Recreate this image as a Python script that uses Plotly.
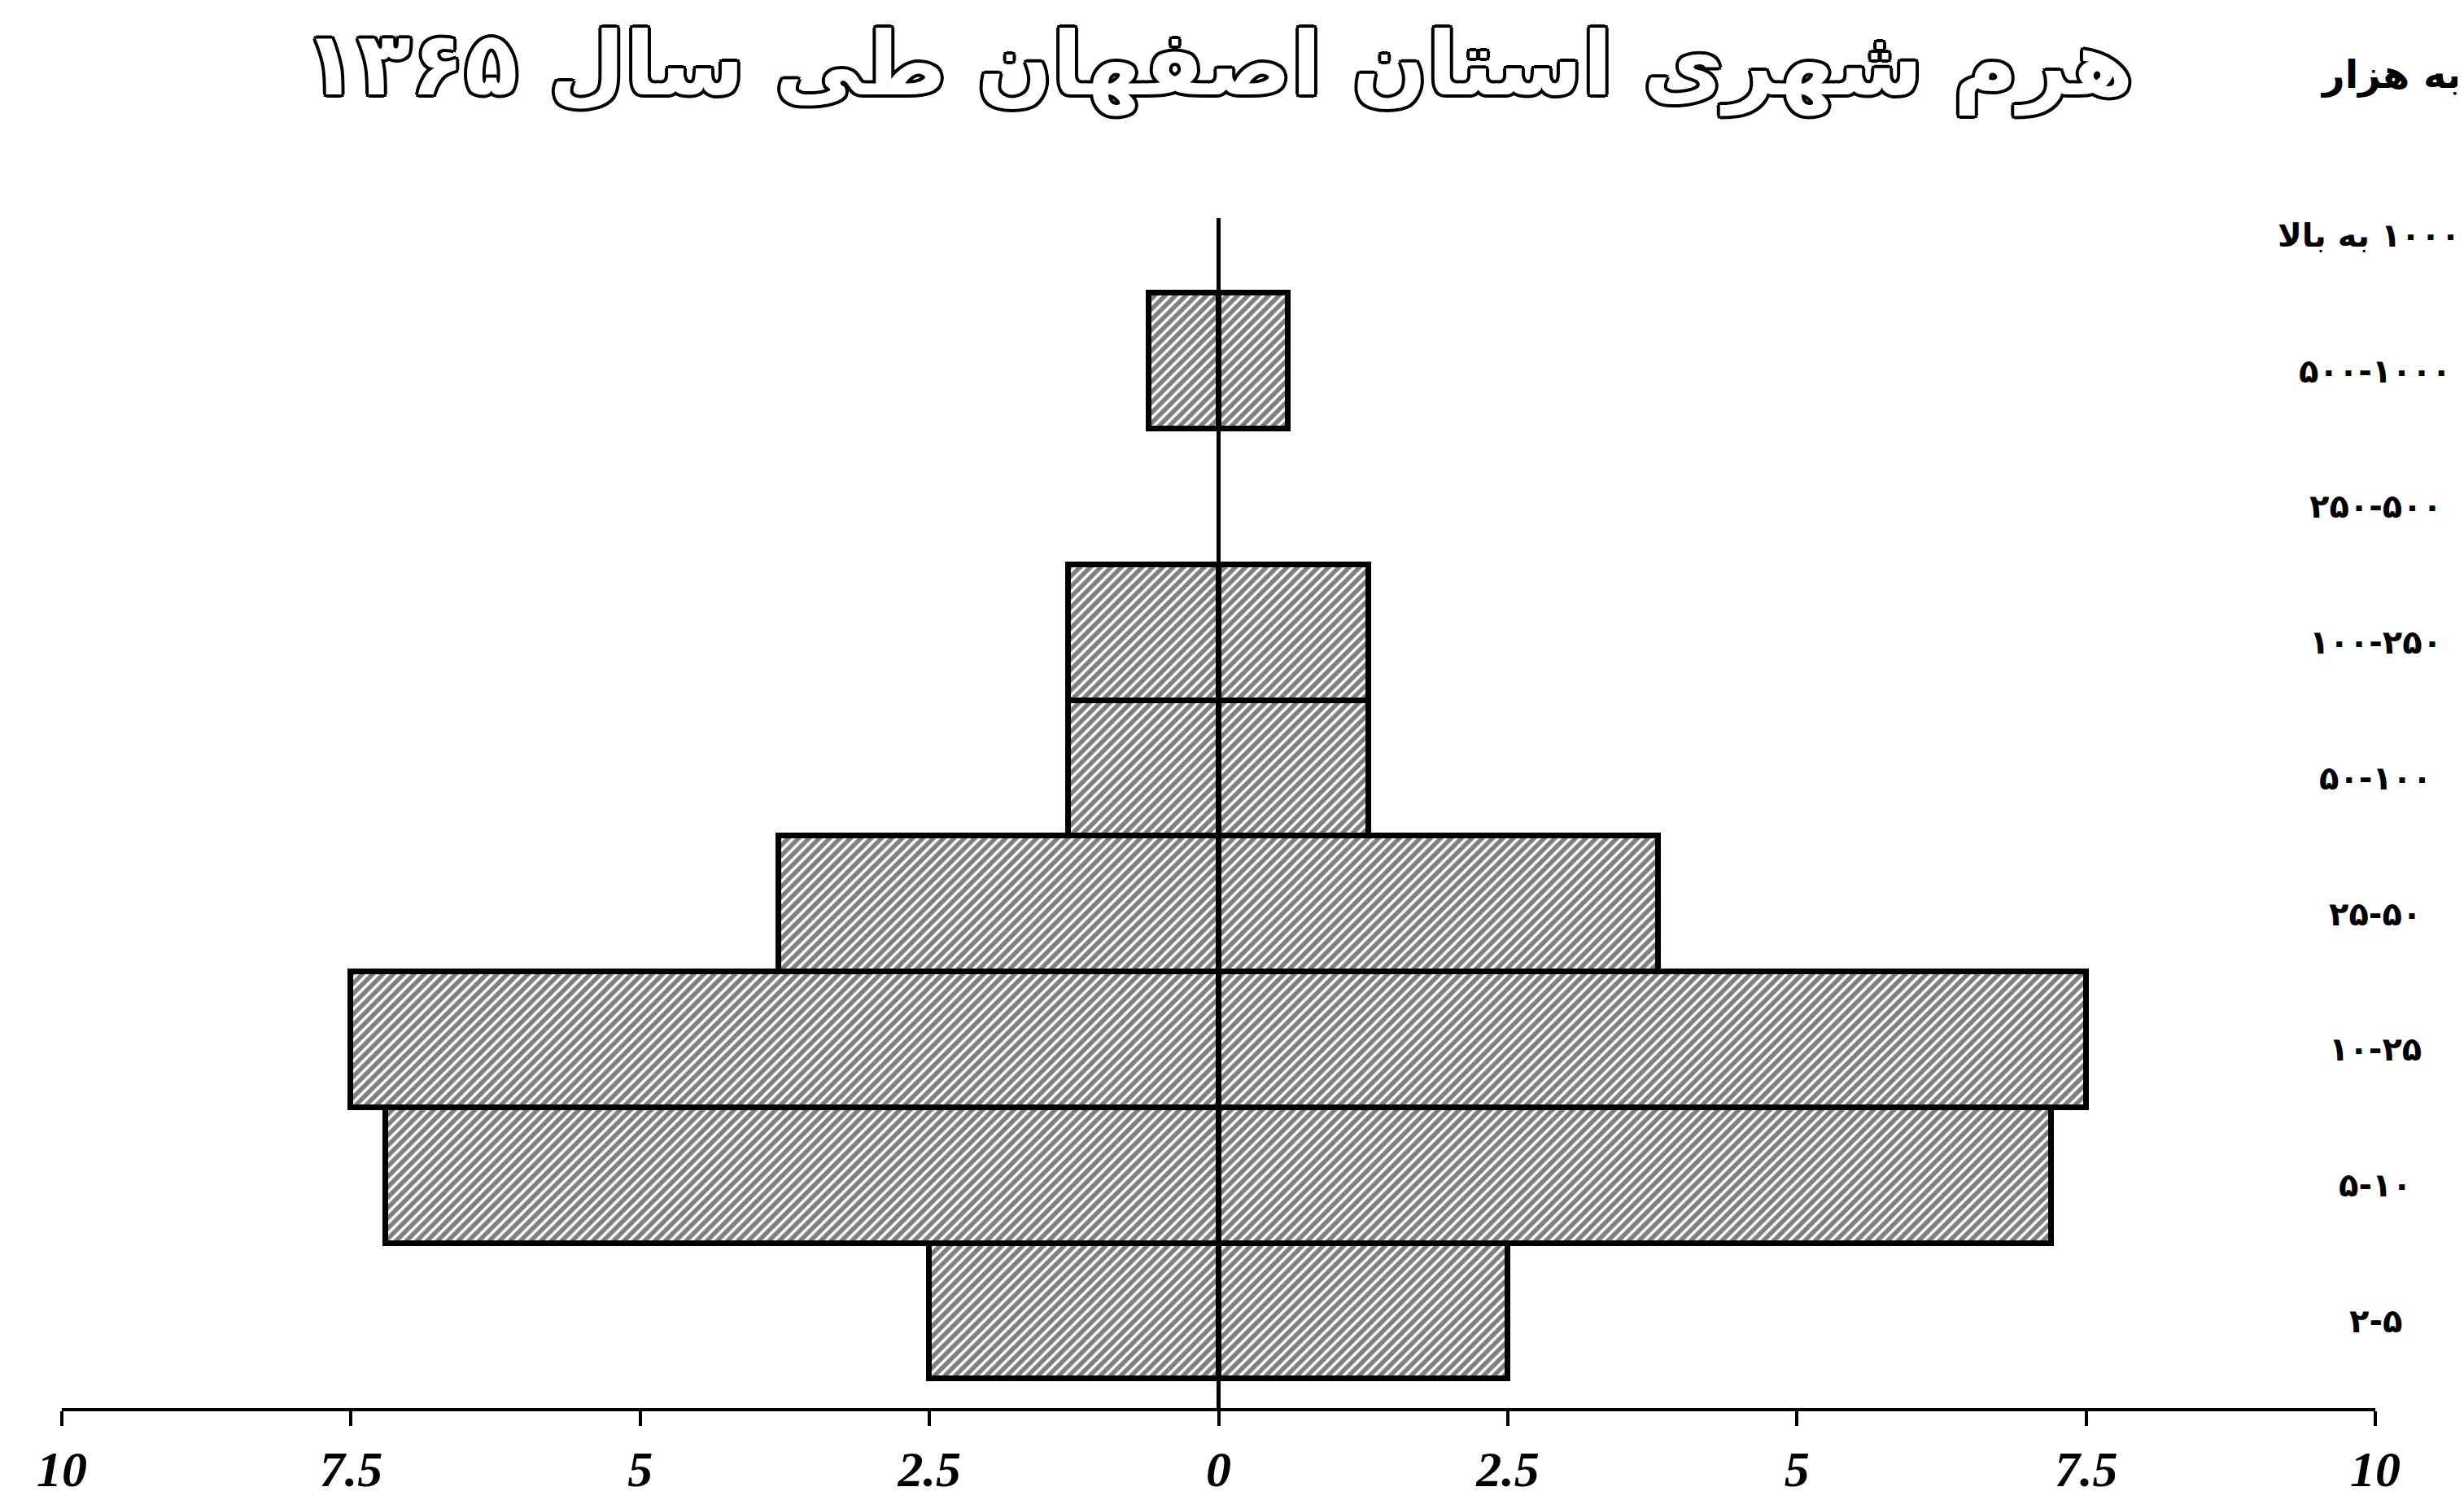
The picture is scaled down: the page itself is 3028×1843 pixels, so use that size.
import plotly.graph_objects as go

# رده‌های جمعیتی شهرها (به هزار نفر)، از بالا به پایین
categories = ['۱۰۰۰ به بالا', '۵۰۰-۱۰۰۰', '۲۵۰-۵۰۰', '۱۰۰-۲۵۰', '۵۰-۱۰۰',
              '۲۵-۵۰', '۱۰-۲۵', '۵-۱۰', '۲-۵']
# طول هر نیمه‌ی میله (خوانده شده از روی شکل)
values = [None, 0.6, None, 1.3, 1.3, 3.8, 7.5, 7.2, 2.5]

tick_vals = [-10, -7.5, -5, -2.5, 0, 2.5, 5, 7.5, 10]
tick_text = ['10', '7.5', '5', '2.5', '0', '2.5', '5', '7.5', '10']

title_text = 'هرم شهری استان اصفهان طی سال ۱۳۶۵'
unit_text = 'به هزار'

fa_font = 'DejaVu Sans'

hatch = dict(shape='/', fgcolor='black', bgcolor='white', size=9, solidity=0.62)
outline = dict(color='black', width=7)

left = [-v if v is not None else None for v in values]

fig = go.Figure()
fig.add_trace(go.Bar(y=categories, x=left, orientation='h',
                     marker=dict(pattern=hatch, line=outline, color='white'),
                     showlegend=False))
fig.add_trace(go.Bar(y=categories, x=values, orientation='h',
                     marker=dict(pattern=hatch, line=outline, color='white'),
                     showlegend=False))

# برچسب رده‌ها در سمت راست
for cat in categories:
    label = cat
    shift = 0
    if ' ' in cat:
        # متن راست‌به‌چپ با عدد
        label = '\u202b' + cat + '\u202c'
        shift = -8
    fig.add_annotation(x=10, y=cat, text=label, showarrow=False,
                       xanchor='center', yanchor='middle', xshift=shift, yshift=-12,
                       font=dict(family=fa_font, size=40, color='black', weight='bold'))

fig.add_annotation(x=1, xref='paper', y=1, yref='paper', text=unit_text,
                   showarrow=False, xanchor='right', yanchor='middle',
                   xshift=108, yshift=177,
                   font=dict(family=fa_font, size=48, color='black', weight='bold'))

outline_shadow = ('4px 0 0 #000, -4px 0 0 #000, 0 4px 0 #000, 0 -4px 0 #000, '
                  '3px 3px 0 #000, -3px -3px 0 #000, 3px -3px 0 #000, -3px 3px 0 #000')
fig.add_annotation(x=0, y=1, yref='paper', text=title_text, showarrow=False,
                   xanchor='center', yanchor='top', yshift=254,
                   font=dict(family=fa_font, size=108, color='white', weight='bold',
                             shadow=outline_shadow))

fig.update_layout(
    width=3028, height=1843,
    margin=dict(l=68, r=117, t=260, b=106),
    paper_bgcolor='white', plot_bgcolor='white',
    barmode='relative', bargap=0,
    xaxis=dict(range=[-10, 10], tickvals=tick_vals, ticktext=tick_text,
               ticks='outside', ticklen=18, tickwidth=4, tickcolor='black',
               showline=True, linewidth=4, linecolor='black',
               showgrid=False, zeroline=True, zerolinecolor='black', zerolinewidth=5,
               layer='above traces',
               tickfont=dict(family='Liberation Serif', size=62, color='black',
                             weight='bold', style='italic')),
    yaxis=dict(categoryorder='array', categoryarray=categories[::-1],
               range=[-0.714, 8.053], visible=False),
)

fig.write_html('out.html')
